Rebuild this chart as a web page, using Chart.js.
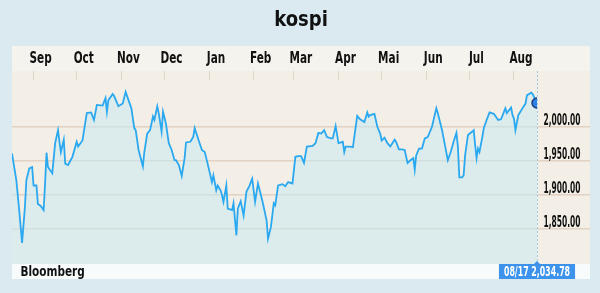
<!DOCTYPE html>
<html>
<head>
<meta charset="utf-8">
<script src="https://cdn.jsdelivr.net/npm/chart.js@4.4.1/dist/chart.umd.min.js"></script>
<style>
    html, body { margin: 0; padding: 0; background: #dbeaf1; }
    #wrap { width: 600px; height: 293px; }
</style>
</head>
<body>
<div id="wrap"><canvas id="kospiChart" width="600" height="293"></canvas></div>
<script>
// KOSPI, 17 Aug 2013 - 17 Aug 2014; x values are days since the start date
const title = 'kospi';
const monthStarts = [15, 45, 76, 106, 137, 168, 196, 227, 257, 288, 318, 349];
const monthLabels = ['Sep', 'Oct', 'Nov', 'Dec', 'Jan', 'Feb', 'Mar', 'Apr', 'Mai', 'Jun', 'Jul', 'Aug'];
const yTicks = [1850, 1900, 1950, 2000];
const lastDate = '08/17';
const source = 'Bloomberg';

const days = [
    0, 3, 5, 7, 9, 10, 12, 14, 15, 17, 18, 20, 22, 23, 24, 25, 28, 30, 32, 33,
    34, 36, 37, 39, 42, 45, 46, 49, 52, 55, 57, 59, 63, 65, 66, 67, 70, 71, 74, 77,
    79, 81, 83, 85, 86, 88, 91, 92, 94, 96, 98, 99, 101, 102, 104, 105, 107, 109, 111, 113,
    114, 116, 118, 120, 121, 124, 126, 127, 129, 132, 134, 136, 139, 140, 142, 143, 145, 146, 147, 149,
    150, 153, 154, 156, 157, 159, 161, 163, 165, 167, 169, 171, 174, 177, 178, 180, 182, 183, 185, 188,
    190, 192, 195, 197, 199, 201, 203, 205, 209, 211, 213, 215, 217, 219, 222, 223, 225, 227, 230, 231,
    232, 235, 237, 240, 242, 245, 247, 248, 249, 252, 254, 256, 257, 259, 261, 263, 266, 267, 269, 271,
    273, 275, 277, 279, 280, 281, 283, 285, 287, 289, 292, 295, 296, 299, 301, 303, 305, 307, 309, 310,
    311, 313, 314, 315, 317, 320, 321, 322, 323, 324, 325, 327, 328, 330, 332, 335, 338, 340, 343, 344,
    347, 348, 349, 350, 352, 354, 357, 358, 361, 362, 365
];
const values = [
    1961, 1922, 1878, 1830, 1883, 1922, 1939, 1941, 1914, 1914, 1887, 1884, 1878, 1917, 1962, 1941, 1932, 1976, 1995, 1978,
    1963, 1981, 1946, 1944, 1956, 1978, 1971, 1980, 2020, 2021, 2010, 2032, 2031, 2042, 2022, 2039, 2048, 2045, 2030, 2034,
    2051, 2039, 2027, 1998, 1995, 1966, 1942, 1963, 1990, 1995, 2015, 2010, 2030, 2020, 1993, 2022, 2005, 1976, 1966, 1951,
    1951, 1944, 1928, 1954, 1977, 1978, 1985, 1998, 1985, 1966, 1963, 1946, 1919, 1929, 1907, 1914, 1907, 1900, 1890, 1914,
    1880, 1878, 1888, 1841, 1880, 1891, 1870, 1905, 1913, 1924, 1890, 1917, 1892, 1863, 1836, 1853, 1888, 1885, 1914, 1916,
    1913, 1919, 1917, 1956, 1957, 1957, 1947, 1971, 1972, 1976, 1991, 1990, 1995, 1985, 1983, 1983, 2001, 1976, 1978, 1963,
    1971, 1971, 1970, 2016, 2011, 2007, 2021, 2015, 2017, 2019, 2000, 1990, 1980, 1984, 1976, 1971, 1981, 1978, 1967, 1967,
    1966, 1947, 1951, 1954, 1937, 1958, 1968, 1968, 1983, 1985, 2000, 2027, 2020, 1995, 1973, 1951, 1963, 1978, 1991, 1971,
    1926, 1926, 1929, 1958, 1988, 1993, 1995, 1973, 1954, 1968, 1963, 1985, 1998, 2010, 2021, 2019, 2010, 2011, 2027, 2020,
    2028, 2017, 2012, 1995, 2017, 2024, 2034, 2046, 2050, 2048, 2034.78
];

const FONT = "'DejaVu Sans', sans-serif";
const X_TICK_LEN = 9;
const lastIndex = values.length - 1;

const fmt = v => v.toLocaleString('en-US', { minimumFractionDigits: 2, maximumFractionDigits: 2 });

// no condensed face is installed, so squeeze the bold face horizontally
function squeezeText(ctx, text, x, y, scaleX, align) {
    ctx.save();
    ctx.translate(x, y);
    ctx.scale(scaleX, 1);
    ctx.textAlign = align;
    ctx.fillText(text, 0, 0);
    ctx.restore();
}

// page, month band and plot backgrounds
const backgroundPlugin = {
    id: 'backgrounds',
    beforeDraw(chart) {
        const { ctx, chartArea } = chart;
        const xs = chart.scales.x;
        const right = chart.scales.y.right;
        ctx.save();
        ctx.fillStyle = '#dbeaf1';
        ctx.fillRect(0, 0, chart.width, chart.height);
        ctx.fillStyle = '#f5f3ed';
        ctx.fillRect(chartArea.left, xs.top, right - chartArea.left, xs.bottom - X_TICK_LEN - xs.top);
        ctx.fillStyle = '#f3efe6';
        ctx.fillRect(chartArea.left, xs.bottom - X_TICK_LEN, right - chartArea.left, chartArea.bottom - xs.bottom + X_TICK_LEN);
        ctx.restore();
    },
    beforeDatasetsDraw(chart) {
        const { ctx, chartArea } = chart;
        const x = Math.round(chart.scales.x.getPixelForValue(days[lastIndex])) + 0.5;
        ctx.save();
        ctx.strokeStyle = '#9fcbea';
        ctx.lineWidth = 1;
        ctx.setLineDash([2, 2]);
        ctx.beginPath();
        ctx.moveTo(x, chartArea.top - X_TICK_LEN);
        ctx.lineTo(x, chartArea.bottom);
        ctx.stroke();
        ctx.restore();
    }
};

// title, month names and value labels, placed with the chart's scales
const labelsPlugin = {
    id: 'labels',
    afterDraw(chart) {
        const { ctx } = chart;
        const xs = chart.scales.x;
        const ys = chart.scales.y;
        ctx.save();
        ctx.fillStyle = '#111';
        ctx.textBaseline = 'alphabetic';

        ctx.font = 'bold 22px ' + FONT;
        squeezeText(ctx, title, 301, 26, 0.82, 'center');

        ctx.font = 'bold 15px ' + FONT;
        monthStarts.forEach((d, i) => {
            squeezeText(ctx, monthLabels[i], xs.getPixelForValue(d) + 7, 62.5, 0.7, 'center');
        });

        ctx.font = 'bold 15px ' + FONT;
        yTicks.forEach(v => {
            squeezeText(ctx, fmt(v), ys.left + 6.5, ys.getPixelForValue(v) - 2, 0.5, 'left');
        });
        ctx.restore();
    }
};

// source strip and last value label under the plot
const footerPlugin = {
    id: 'footer',
    afterDraw(chart) {
        const { ctx, chartArea } = chart;
        const right = chart.scales.y.right;
        const top = chartArea.bottom;
        const h = 15;
        const base = top + 12;
        ctx.save();
        ctx.fillStyle = '#f8fbfc';
        ctx.fillRect(chartArea.left, top, right - chartArea.left, h);

        ctx.fillStyle = '#111';
        ctx.font = 'bold 14px ' + FONT;
        ctx.textBaseline = 'alphabetic';
        squeezeText(ctx, source, chartArea.left + 8.5, base, 0.75, 'left');

        const x = chart.scales.x.getPixelForValue(days[lastIndex]);
        const text = lastDate + ' ' + fmt(values[lastIndex]);
        const sx = 0.56;
        const w = ctx.measureText(text).width * sx + 10;
        const bx = Math.min(x - w / 2, right - 10 - w);
        ctx.fillStyle = '#3d93ec';
        ctx.fillRect(bx, top, w, h);
        ctx.beginPath();
        ctx.moveTo(x - 3, top);
        ctx.lineTo(x, top - 3);
        ctx.lineTo(x + 3, top);
        ctx.fill();
        ctx.fillStyle = '#fff';
        squeezeText(ctx, text, bx + w / 2, base, sx, 'center');
        ctx.restore();
    }
};

const ctx = document.getElementById('kospiChart');
new Chart(ctx, {
    type: 'line',
    data: {
        datasets: [{
            data: days.map((d, i) => ({ x: d, y: values[i] })),
            borderColor: '#2aa8f0',
            borderWidth: 1.8,
            backgroundColor: 'rgba(200, 233, 243, 0.55)',
            fill: 'start',
            tension: 0,
            pointRadius: c => c.dataIndex === lastIndex ? 5 : 0,
            pointBackgroundColor: '#2f80e6',
            pointBorderColor: '#1b3d7a',
            pointBorderWidth: 1.5
        }]
    },
    options: {
        responsive: false,
        animation: false,
        layout: { padding: { left: 12, right: 10, top: 46, bottom: 29 } },
        plugins: {
            legend: { display: false },
            tooltip: { enabled: false },
            title: { display: false }
        },
        scales: {
            x: {
                type: 'linear',
                position: 'top',
                min: 0,
                max: days[lastIndex],
                afterBuildTicks: s => { s.ticks = monthStarts.map(v => ({ value: v })); },
                afterFit: s => { s.height = 34; },
                ticks: { display: false },
                grid: { drawOnChartArea: false, drawTicks: true, tickLength: X_TICK_LEN, color: '#ddd6cb' },
                border: { display: false }
            },
            y: {
                position: 'right',
                min: 1799,
                max: 2068.5,
                afterBuildTicks: s => { s.ticks = yTicks.map(v => ({ value: v })); },
                afterFit: s => { s.width = 53; },
                ticks: { display: false },
                grid: { color: 'rgba(214, 190, 172, 0.6)', lineWidth: 1.5, tickLength: 53 },
                border: { display: false }
            }
        }
    },
    plugins: [backgroundPlugin, labelsPlugin, footerPlugin]
});
</script>
</body>
</html>
